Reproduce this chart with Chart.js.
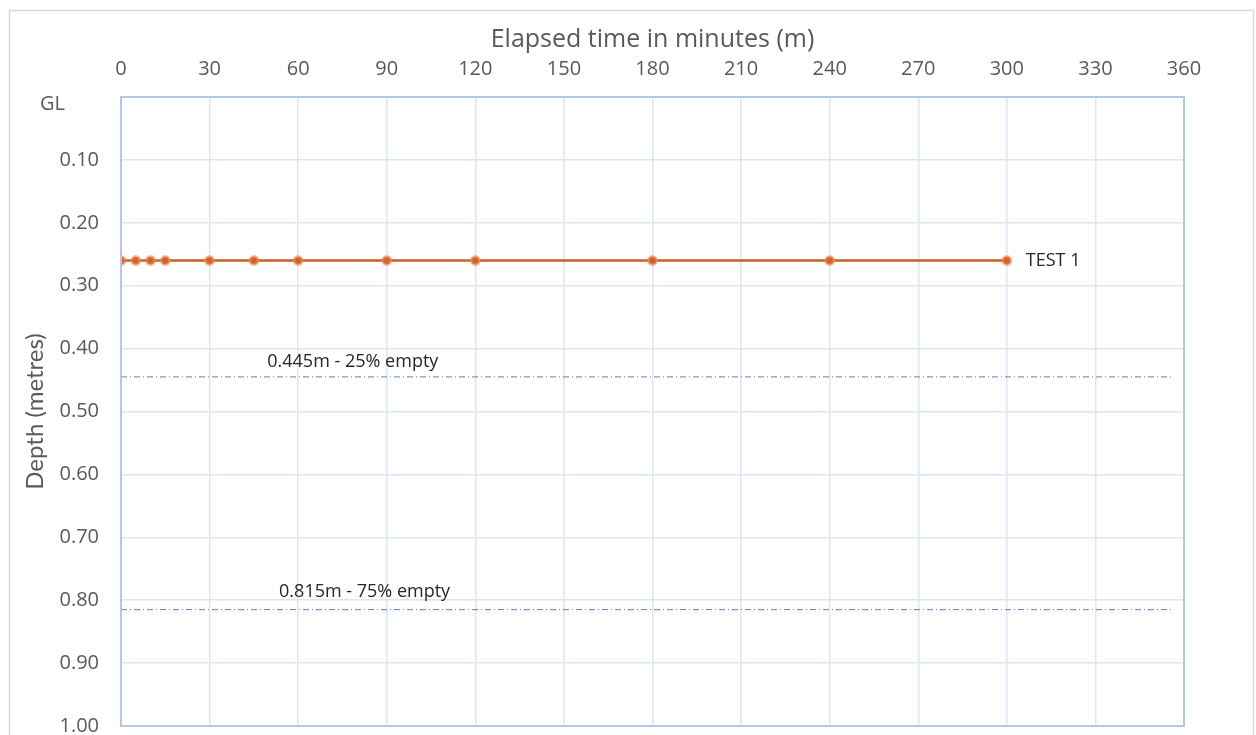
<!DOCTYPE html>
<html>
<head>
<meta charset="utf-8">
<script src="https://cdn.jsdelivr.net/npm/chart.js@4.4.1/dist/chart.umd.min.js"></script>
<style>
  html, body { margin: 0; padding: 0; background: #ffffff; }
  #wrap { width: 1256px; height: 735px; position: relative; }
</style>
</head>
<body>
<div id="wrap"><canvas id="c" width="1256" height="735"></canvas></div>
<script>
// ---- data ----
const elapsedMinutes = [0, 5, 10, 15, 30, 45, 60, 90, 120, 180, 240, 300];
const test1Depth = [0.26, 0.26, 0.26, 0.26, 0.26, 0.26, 0.26, 0.26, 0.26, 0.26, 0.26, 0.26];
const seriesName = 'TEST 1';
const refLevels = [0.445, 0.815];
const refLabels = ['0.445m - 25% empty', '0.815m - 75% empty'];
const refLineSpan = [0, 356];
const xTickStep = 30;
const xRange = [0, 360];
const yRange = [0, 1];
const yTickStep = 0.1;
const xTitle = 'Elapsed time in minutes (m)';
const yTitle = 'Depth (metres)';
const topLabel = 'GL';

const HFONT = '"Open Sans", Lato, sans-serif';
const VFONT = 'Lato, "Open Sans", sans-serif';
const GRAY = '#595959';

const datasets = [
  {
    label: seriesName,
    data: elapsedMinutes.map((m, i) => ({ x: m, y: test1Depth[i] })),
    borderColor: '#C95F26',
    borderWidth: 2.5,
    pointRadius: 4,
    pointBackgroundColor: '#D0612A',
    pointBorderColor: 'rgba(240,140,90,0.55)',
    pointBorderWidth: 3,
    tension: 0,
    order: 0
  }
];
refLevels.forEach((lvl, i) => {
  datasets.push({
    label: refLabels[i],
    data: refLineSpan.map(x => ({ x: x, y: lvl })),
    borderColor: 'rgba(60,95,165,0.8)',
    borderWidth: 1,
    borderDash: [6, 3, 1, 3],
    pointRadius: 0,
    tension: 0,
    order: 1
  });
});

const decorPlugin = {
  id: 'decor',
  beforeDraw(chart) {
    const ctx = chart.ctx;
    ctx.save();
    ctx.fillStyle = '#ffffff';
    ctx.fillRect(0, 0, chart.width, chart.height);
    ctx.strokeStyle = '#D9D9D9';
    ctx.lineWidth = 1.5;
    ctx.strokeRect(9.5, 10.5, 1244, 760);
    ctx.restore();
  },
  afterDatasetsDraw(chart) {
    const ctx = chart.ctx;
    const xs = chart.scales.x, ys = chart.scales.y;
    const a = chart.chartArea;
    ctx.save();
    ctx.strokeStyle = '#B4C7E7';
    ctx.lineWidth = 2;
    ctx.strokeRect(a.left, a.top, a.right - a.left, a.bottom - a.top);
    // GL label for top tick
    ctx.fillStyle = GRAY;
    ctx.font = '20px ' + HFONT;
    ctx.textAlign = 'right';
    ctx.textBaseline = 'middle';
    ctx.fillText(topLabel, a.left - 56, ys.getPixelForValue(0) + 7);
    // reference labels
    ctx.fillStyle = '#262626';
    ctx.font = '18px ' + HFONT;
    ctx.textAlign = 'center';
    ctx.textBaseline = 'bottom';
    const lblX = [78.5, 82.5];
    const lblGap = [6, 9];
    refLevels.forEach((lvl, i) => {
      ctx.fillText(refLabels[i], xs.getPixelForValue(lblX[i]), ys.getPixelForValue(lvl) - lblGap[i]);
    });
    // series label at the last point
    const lastX = elapsedMinutes[elapsedMinutes.length - 1];
    const lastY = test1Depth[test1Depth.length - 1];
    ctx.textAlign = 'left';
    ctx.textBaseline = 'middle';
    ctx.fillText(seriesName, xs.getPixelForValue(lastX) + 19, ys.getPixelForValue(lastY));
    ctx.restore();
  }
};

new Chart(document.getElementById('c'), {
  type: 'line',
  data: { datasets: datasets },
  options: {
    responsive: false,
    animation: false,
    devicePixelRatio: 1,
    layout: { padding: { left: 0, top: 0, right: 72, bottom: 9 } },
    plugins: { legend: { display: false }, tooltip: { enabled: false } },
    scales: {
      x: {
        type: 'linear',
        position: 'top',
        min: xRange[0], max: xRange[1],
        ticks: { stepSize: xTickStep, color: GRAY, font: { family: HFONT, size: 20 }, padding: 16, maxRotation: 0 },
        grid: { color: '#DCE6F4', lineWidth: 1.5, drawTicks: false },
        border: { display: false },
        title: { display: true, text: xTitle, color: GRAY, font: { family: HFONT, size: 25 }, padding: { top: 25, bottom: 0 } },
        afterFit(s) { s.height = 97; s.paddingLeft = 0; s.paddingRight = 0; }
      },
      y: {
        type: 'linear',
        reverse: true,
        min: yRange[0], max: yRange[1],
        ticks: {
          stepSize: yTickStep, color: GRAY, font: { family: HFONT, size: 20 }, padding: 22,
          callback: v => (Math.abs(v) < 1e-9 ? '' : Number(v).toFixed(2))
        },
        grid: { color: '#DCE6F4', lineWidth: 1.5, drawTicks: false },
        border: { display: false },
        title: { display: true, text: yTitle, color: GRAY, font: { family: VFONT, size: 24 }, padding: { top: 21, bottom: 0 } },
        afterFit(s) { s.width = 121; s.paddingTop = 0; s.paddingBottom = 0; }
      }
    }
  },
  plugins: [decorPlugin]
});
</script>
</body>
</html>
